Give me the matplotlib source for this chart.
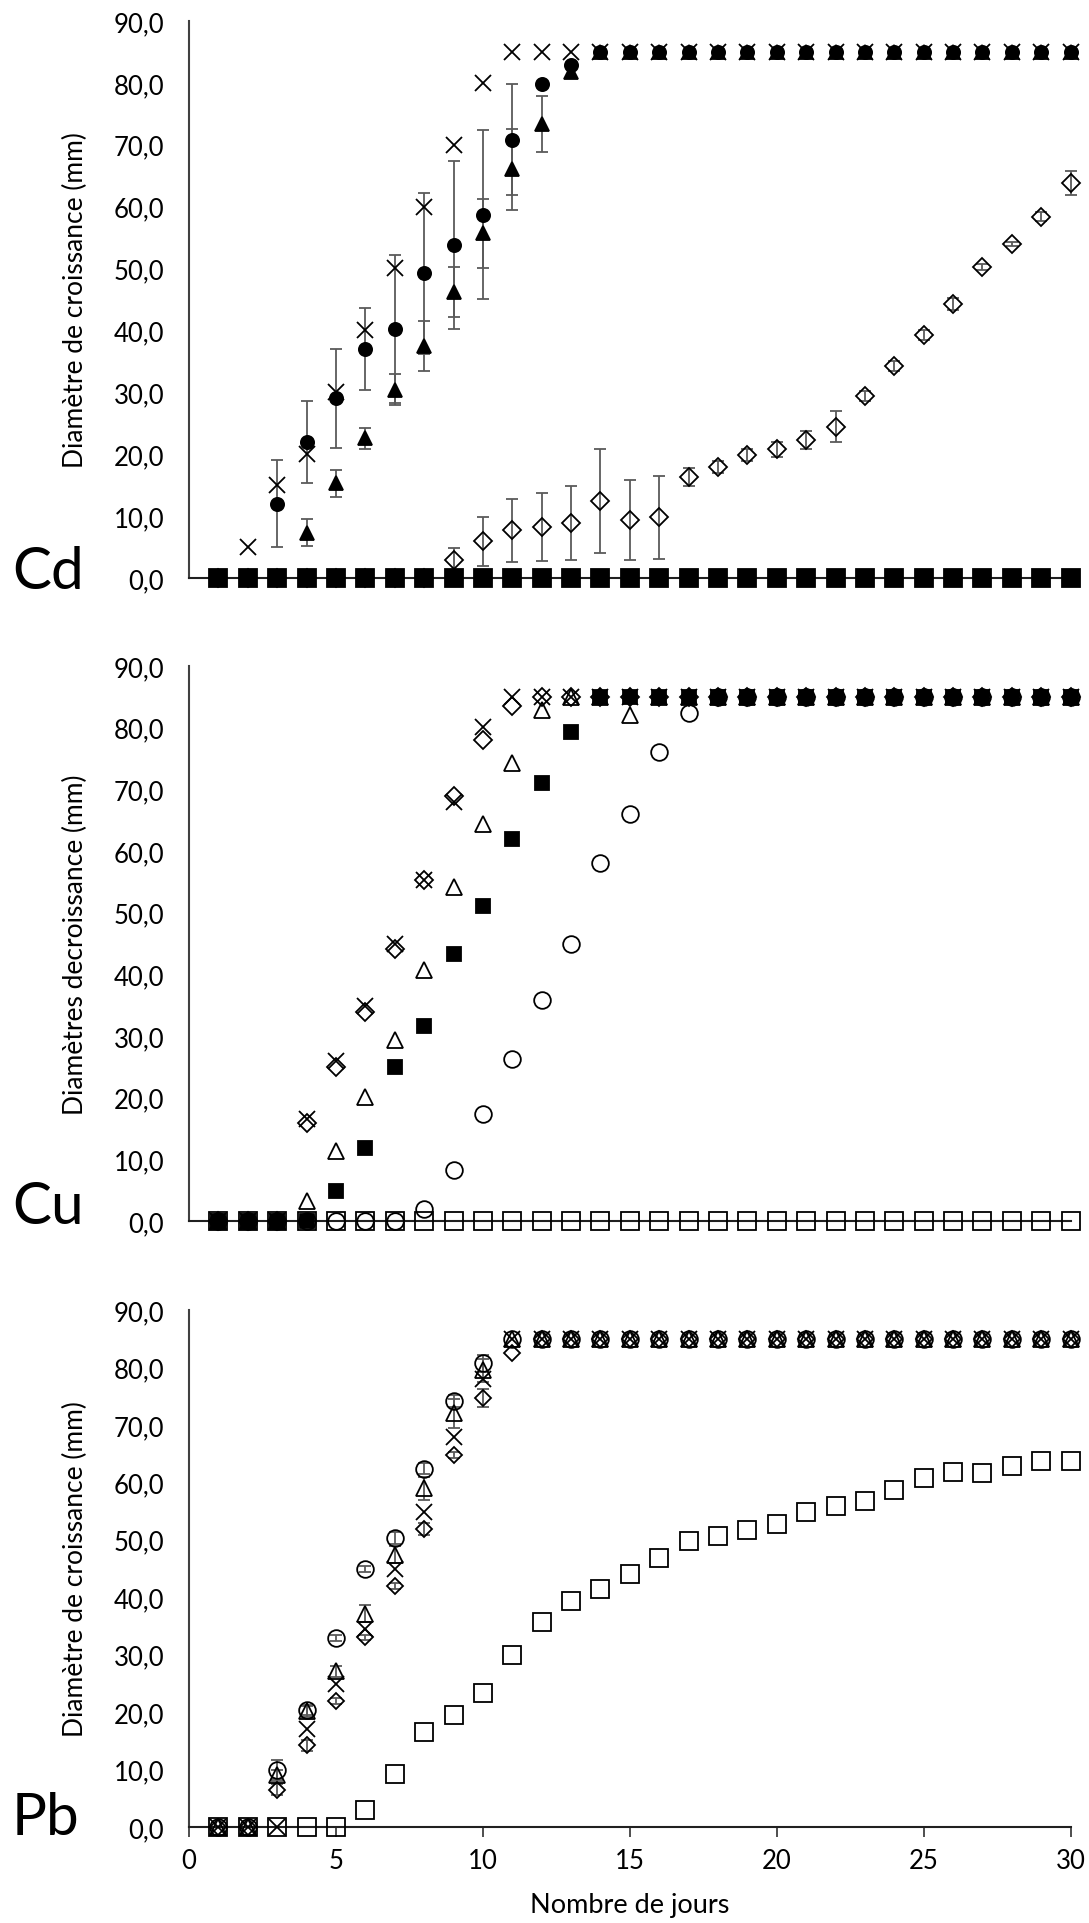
import numpy as np
import matplotlib
matplotlib.use("Agg")
import matplotlib.pyplot as plt
from matplotlib.ticker import FuncFormatter

plt.rcParams['font.family'] = ['Lato', 'DejaVu Sans']

jours = np.arange(1, 31)

# ---- Cd ----
cd_croix = [0, 5, 15, 20, 30, 40, 50, 60, 70, 80, 85, 85, 85, 85, 85,
            85, 85, 85, 85, 85, 85, 85, 85, 85, 85, 85, 85, 85, 85, 85]
cd_rond = [0, 0, 12, 22, 29, 37, 40.2, 49.2, 53.8, 58.7, 70.8, 79.8, 82.8, 85, 85,
           85, 85, 85, 85, 85, 85, 85, 85, 85, 85, 85, 85, 85, 85, 85]
cd_rond_err = [0, 0, 7, 6.6, 8, 6.6, 12, 13, 13.5, 13.6, 9, 0, 0, 0, 0,
               0, 0, 0, 0, 0, 0, 0, 0, 0, 0, 0, 0, 0, 0, 0]
cd_tri = [0, 0, 0, 7.3, 15.3, 22.6, 30.4, 37.5, 46.2, 55.7, 66, 73.4, 81.8, 85, 85,
          85, 85, 85, 85, 85, 85, 85, 85, 85, 85, 85, 85, 85, 85, 85]
cd_tri_err = [0, 0, 0, 2.2, 2.2, 1.7, 2.5, 4, 4, 5.6, 6.5, 4.5, 0, 0, 0,
              0, 0, 0, 0, 0, 0, 0, 0, 0, 0, 0, 0, 0, 0, 0]
cd_losange = [0, 0, 0, 0, 0, 0, 0, 0, 2.9, 5.9, 7.7, 8.3, 8.9, 12.5, 9.4,
              9.8, 16.3, 17.9, 19.9, 20.8, 22.3, 24.4, 29.4, 34.3, 39.3, 44.3, 50.3, 53.9, 58.4, 63.8]
cd_losange_err = [0, 0, 0, 0, 0, 0, 0, 0, 2, 4, 5.1, 5.5, 6, 8.4, 6.5,
                  6.7, 1.5, 1, 1, 1.2, 1.5, 2.5, 0.8, 0.8, 0.8, 1, 0.5, 0.3, 0.8, 2]
cd_carre_plein = [0, 0, 0, 0, 0, 0, 0, 0, 0, 0, 0, 0, 0, 0, 0,
                  0, 0, 0, 0, 0, 0, 0, 0, 0, 0, 0, 0, 0, 0, 0]
cd_rond_vide = [0, 0, 0, 0, 0, 0, 0, 0, 0, 0, 0, 0, 0, 0, 0,
                0, 0, 0, 0, 0, 0, 0, 0, 0, 0, 0, 0, 0, 0, 0]

# ---- Cu ----
cu_carre = [0, 0, 0, 0, 0, 0, 0, 0, 0, 0, 0, 0, 0, 0, 0,
            0, 0, 0, 0, 0, 0, 0, 0, 0, 0, 0, 0, 0, 0, 0]
cu_rond = [0, 0, 0, 0, 0, 0, 0, 1.9, 8.2, 17.3, 26.3, 35.9, 44.9, 58, 66,
           76, 82.4, 85, 85, 85, 85, 85, 85, 85, 85, 85, 85, 85, 85, 85]
cu_carre_plein = [0, 0, 0, 0, 4.9, 11.9, 24.9, 31.6, 43.2, 51, 62, 71, 79.2, 85, 85,
                  85, 85, 85, 85, 85, 85, 85, 85, 85, 85, 85, 85, 85, 85, 85]
cu_tri = [0, 0, 0, 3.2, 11.3, 20.1, 29.3, 40.7, 54.1, 64.3, 74.2, 82.9, 85, 85, 82,
          85, 85, 85, 85, 85, 85, 85, 85, 85, 85, 85, 85, 85, 85, 85]
cu_losange = [0, 0, 0, 15.9, 24.9, 33.9, 44.1, 55.3, 68.9, 77.9, 83.5, 85, 85, 85, 85,
              85, 85, 85, 85, 85, 85, 85, 85, 85, 85, 85, 85, 85, 85, 85]
cu_croix = [0, 0, 0, 16.6, 25.9, 34.8, 44.9, 55.3, 68, 80.1, 85, 85, 85, 85, 85,
            85, 85, 85, 85, 85, 85, 85, 85, 85, 85, 85, 85, 85, 85, 85]

# ---- Pb ----
pb_carre = [0, 0, 0, 0, 0, 3, 9.2, 16.5, 19.5, 23.3, 29.9, 35.6, 39.3, 41.5, 44.1,
            46.8, 49.8, 50.7, 51.7, 52.8, 54.8, 55.8, 56.7, 58.7, 60.7, 61.8, 61.7, 62.8, 63.7, 63.7]
pb_losange = [0, 0, 6.5, 14.2, 21.9, 33, 42, 51.9, 64.7, 74.7, 82.6, 85, 85, 85, 85,
              85, 85, 85, 85, 85, 85, 85, 85, 85, 85, 85, 85, 85, 85, 85]
pb_losange_err = [0, 0, 1, 1, 0.5, 0.5, 0.5, 1, 0.5, 1.5, 0, 0, 0, 0, 0,
                  0, 0, 0, 0, 0, 0, 0, 0, 0, 0, 0, 0, 0, 0, 0]
pb_croix = [0, 0, 0, 17, 24.9, 34.4, 44.9, 54.9, 67.9, 78, 85, 85, 85, 85, 85,
            85, 85, 85, 85, 85, 85, 85, 85, 85, 85, 85, 85, 85, 85, 85]
pb_tri = [0, 0, 9, 20.2, 27.1, 37.1, 47.4, 59, 72, 79.5, 85, 85, 85, 85, 85,
          85, 85, 85, 85, 85, 85, 85, 85, 85, 85, 85, 85, 85, 85, 85]
pb_tri_err = [0, 0, 1, 1, 1, 1.5, 1.5, 2, 2.5, 2, 0, 0, 0, 0, 0,
              0, 0, 0, 0, 0, 0, 0, 0, 0, 0, 0, 0, 0, 0, 0]
pb_rond = [0, 0, 10, 20.3, 32.9, 44.9, 50.3, 62.4, 74.2, 80.7, 85, 85, 85, 85, 85,
           85, 85, 85, 85, 85, 85, 85, 85, 85, 85, 85, 85, 85, 85, 85]
pb_rond_err = [0, 0, 1.6, 0.8, 0.5, 0.5, 1, 1, 1, 1.5, 0, 0, 0, 0, 0,
               0, 0, 0, 0, 0, 0, 0, 0, 0, 0, 0, 0, 0, 0, 0]

y_ticks = [0, 10, 20, 30, 40, 50, 60, 70, 80, 90]
x_ticks = [0, 5, 10, 15, 20, 25, 30]

GRIS = '#5a5a5a'


def points(ax, y, marker, ms, plein=False, err=None, mew=1.3):
    y = np.asarray(y, dtype=float)
    if err is not None:
        e = np.asarray(err, dtype=float)
        m = e > 0
        ax.errorbar(jours[m], y[m], yerr=e[m], fmt='none', ecolor=GRIS,
                    elinewidth=1.3, capsize=4, capthick=1.3, clip_on=False, zorder=3)
    ax.plot(jours, y, linestyle='none', marker=marker, ms=ms,
            mfc='black' if plein else 'none', mec='black', mew=mew,
            clip_on=False, zorder=4)


def habiller(ax, ylabel, bas=False):
    ax.set_xlim(0, 30)
    ax.set_ylim(0, 90)
    ax.set_yticks(y_ticks)
    ax.yaxis.set_major_formatter(FuncFormatter(lambda v, p: f"{v:.1f}".replace('.', ',')))
    ax.tick_params(axis='y', length=0, pad=18, labelsize=18.5)
    for s in ['top', 'right']:
        ax.spines[s].set_visible(False)
    ax.spines['left'].set_color('#404040')
    ax.spines['left'].set_linewidth(1.5)
    ax.spines['bottom'].set_color('#202020')
    ax.spines['bottom'].set_linewidth(1.5)
    ax.set_ylabel(ylabel, fontsize=19)
    ax.yaxis.set_label_coords(-0.115, 0.5)
    if bas:
        ax.set_xticks(x_ticks)
        ax.tick_params(axis='x', length=7, width=1.3, color='#404040',
                       direction='out', pad=8, labelsize=18.5)
        ax.set_xlabel('Nombre de jours', fontsize=19.5)
        ax.xaxis.set_label_coords(0.5, -0.125)
    else:
        ax.set_xticks(x_ticks)
        ax.tick_params(axis='x', length=0, labelbottom=False)


def main():
    fig = plt.figure(figsize=(10.89, 19.24), dpi=100)
    ax_cd = fig.add_axes([0.1736, 0.6991, 0.8095, 0.2895])
    ax_cu = fig.add_axes([0.1736, 0.3649, 0.8095, 0.2885])
    ax_pb = fig.add_axes([0.1736, 0.0499, 0.8095, 0.2687])

    # Cd
    points(ax_cd, cd_carre_plein, 's', 13, plein=True)
    points(ax_cd, cd_rond_vide, 'o', 11)
    points(ax_cd, cd_losange, 'D', 9.5, err=cd_losange_err)
    points(ax_cd, cd_tri, '^', 9.5, plein=True, err=cd_tri_err)
    points(ax_cd, cd_rond, 'o', 9.5, plein=True, err=cd_rond_err)
    points(ax_cd, cd_croix, 'x', 12)
    habiller(ax_cd, 'Diamètre de croissance (mm)')

    # Cu
    points(ax_cu, cu_carre, 's', 13)
    points(ax_cu, cu_rond, 'o', 12)
    points(ax_cu, cu_carre_plein, 's', 10, plein=True)
    points(ax_cu, cu_tri, '^', 12)
    points(ax_cu, cu_losange, 'D', 9)
    points(ax_cu, cu_croix, 'x', 12)
    habiller(ax_cu, 'Diamètres decroissance (mm)')

    # Pb
    points(ax_pb, pb_carre, 's', 13)
    points(ax_pb, pb_losange, 'D', 8, err=pb_losange_err)
    points(ax_pb, pb_croix, 'x', 11)
    points(ax_pb, pb_tri, '^', 12, err=pb_tri_err)
    points(ax_pb, pb_rond, 'o', 12, err=pb_rond_err)
    habiller(ax_pb, 'Diamètre de croissance (mm)', bas=True)

    for nom, y_px in [('Cd', 589), ('Cu', 1224), ('Pb', 1835)]:
        fig.text(12 / 1089, 1 - y_px / 1924, nom, fontsize=42,
                 ha='left', va='baseline')

    fig.savefig('out.png', dpi=100)


if __name__ == "__main__":
    main()
